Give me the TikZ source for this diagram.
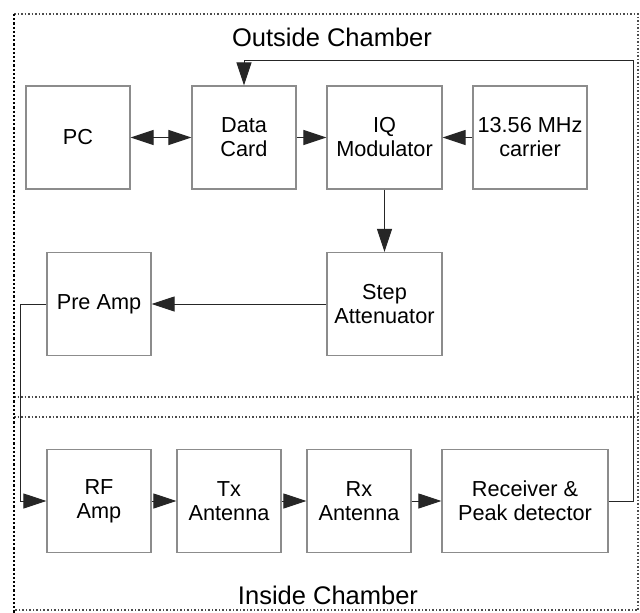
\documentclass[tikz,border=0pt]{standalone}
\usepackage{fontspec}
\setmainfont{Liberation Sans}
\usetikzlibrary{arrows.meta}
\begin{document}
\begin{tikzpicture}[x=1pt,y=-1pt,
  >={Triangle[length=23pt,width=15pt]},
  blockbox/.style={draw=black!45,line width=1.3pt,align=center,inner sep=0pt,
    minimum height=103pt,font=\fontsize{21.7}{24}\selectfont},
  link/.style={draw=black!85,line width=1pt},
  arr/.style={link,->},
  biarr/.style={link,<->},
  zone/.style={draw=black!70,line width=1.5pt,dotted},
  title/.style={font=\fontsize{25.5}{28}\selectfont,inner sep=0pt}]
\useasboundingbox (0,0) rectangle (640,613);
\fill[white] (0,0) rectangle (640,613);

% chamber outlines
\draw[zone] (14,14) -- (638,14) -- (638,610) -- (14,610);
\draw[zone] (14,397) -- (638,397);
\draw[zone] (14,417) -- (638,417);
\draw[draw=black,line width=2.2pt,dotted] (14,14) -- (14,613);

\node[title] (outside) at (332,37) {Outside Chamber};
\node[title] (inside) at (328,595) {Inside Chamber};

% outside chamber blocks
\node[blockbox,minimum width=104pt] (pc) at (78,137.5) {PC};
\node[blockbox,minimum width=104pt] (data) at (244,137.5) {Data\\Card};
\node[blockbox,minimum width=115pt] (iq) at (384.5,137.5) {IQ\\Modulator};
\node[blockbox,minimum width=114pt] (carrier) at (530,137.5) {13.56 MHz\\carrier};
\node[blockbox,minimum width=104pt] (pre) at (99,304) {Pre Amp};
\node[blockbox,minimum width=115pt] (step) at (384.5,304) {Step\\Attenuator};

% inside chamber blocks
\node[blockbox,minimum width=104pt] (rf) at (99,501) {RF\\Amp};
\node[blockbox,minimum width=104pt] (tx) at (229,501) {Tx\\Antenna};
\node[blockbox,minimum width=104pt] (rx) at (359,501) {Rx\\Antenna};
\node[blockbox,minimum width=166pt] (rec) at (525,501) {Receiver \&\\Peak detector};

% routing points
\coordinate (fbR) at (633,60);
\coordinate (lft) at (20,304);

% signal flow
\draw[biarr] (pc) -- (data);
\draw[arr] (data) -- (iq);
\draw[arr] (carrier) -- (iq);
\draw[arr] (iq) -- (step);
\draw[arr] (step) -- (pre);
\draw[arr] (pre.west) -- (lft) |- (rf.west);
\draw[arr] (rf) -- (tx);
\draw[arr] (tx) -- (rx);
\draw[arr] (rx) -- (rec);
\draw[arr] (rec.east) -| (fbR) -- (data.north |- fbR) -- (data.north);
\end{tikzpicture}
\end{document}
